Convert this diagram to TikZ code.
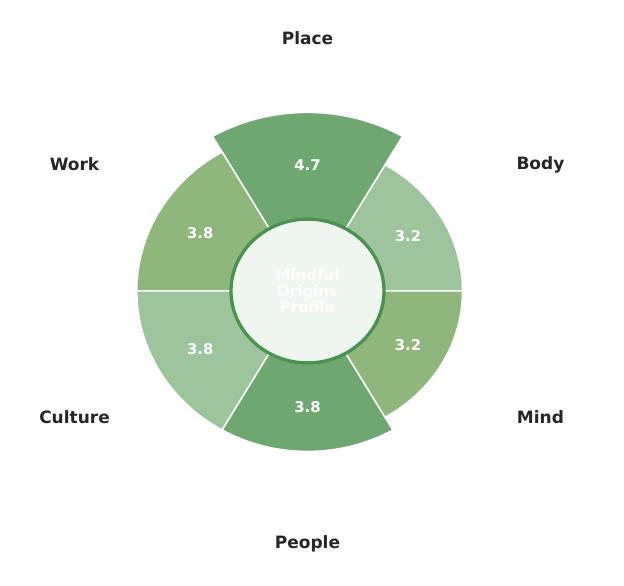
\documentclass[tikz,border=0pt]{standalone}
\usepackage{fontspec}
\setmainfont{DejaVu Sans}
\definecolor{darkleaf}{HTML}{6FA771}
\definecolor{midleaf}{HTML}{8FB77C}
\definecolor{lightleaf}{HTML}{9DC49C}
\definecolor{corefill}{HTML}{EEF6EF}
\definecolor{coreline}{HTML}{4A924F}
\definecolor{labelgray}{HTML}{262626}
\tikzset{
    wedge/.style={draw=white, line width=1.5pt, line join=miter},
    value/.style={text=white, font=\fontsize{14.8}{16}\selectfont\bfseries},
    axislabel/.style={text=labelgray, font=\fontsize{17}{20}\selectfont\bfseries},
    core/.style={text=white, align=center, font=\fontsize{15}{15.7}\selectfont\bfseries}
}
\begin{document}
\begin{tikzpicture}[x=1pt,y=1pt]
    \useasboundingbox (-307.5,-295) rectangle (316.5,291);
    \begin{scope}[yscale=0.94]
        \foreach \a/\r/\c/\v/\n in {0/155/lightleaf/3.2/body, 60/190/darkleaf/4.7/place, 120/170.7/midleaf/3.8/work, 180/170.7/lightleaf/3.8/culture, 240/170.7/darkleaf/3.8/people, 300/155/midleaf/3.2/mind}
        {
            \draw[wedge, fill=\c] (0,0) -- (\a:\r) arc (\a:\a+60:\r) -- cycle;
            \node[value] (v\n) at (\a+30:{(77+\r)/2}) {\v};
        }
        \draw[coreline, line width=3.3pt, fill=corefill] (0,0) circle (76.5);
        \node[core] (core) at (0,0) {Mindful\\Origins\\Profile};
        \foreach \a/\t/\n in {90/Place/place, 30/Body/body, -30/Mind/mind, -90/People/people, -150/Culture/culture, 150/Work/work}
            \node[axislabel] (\n) at (\a:269) {\t};
    \end{scope}
\end{tikzpicture}
\end{document}
